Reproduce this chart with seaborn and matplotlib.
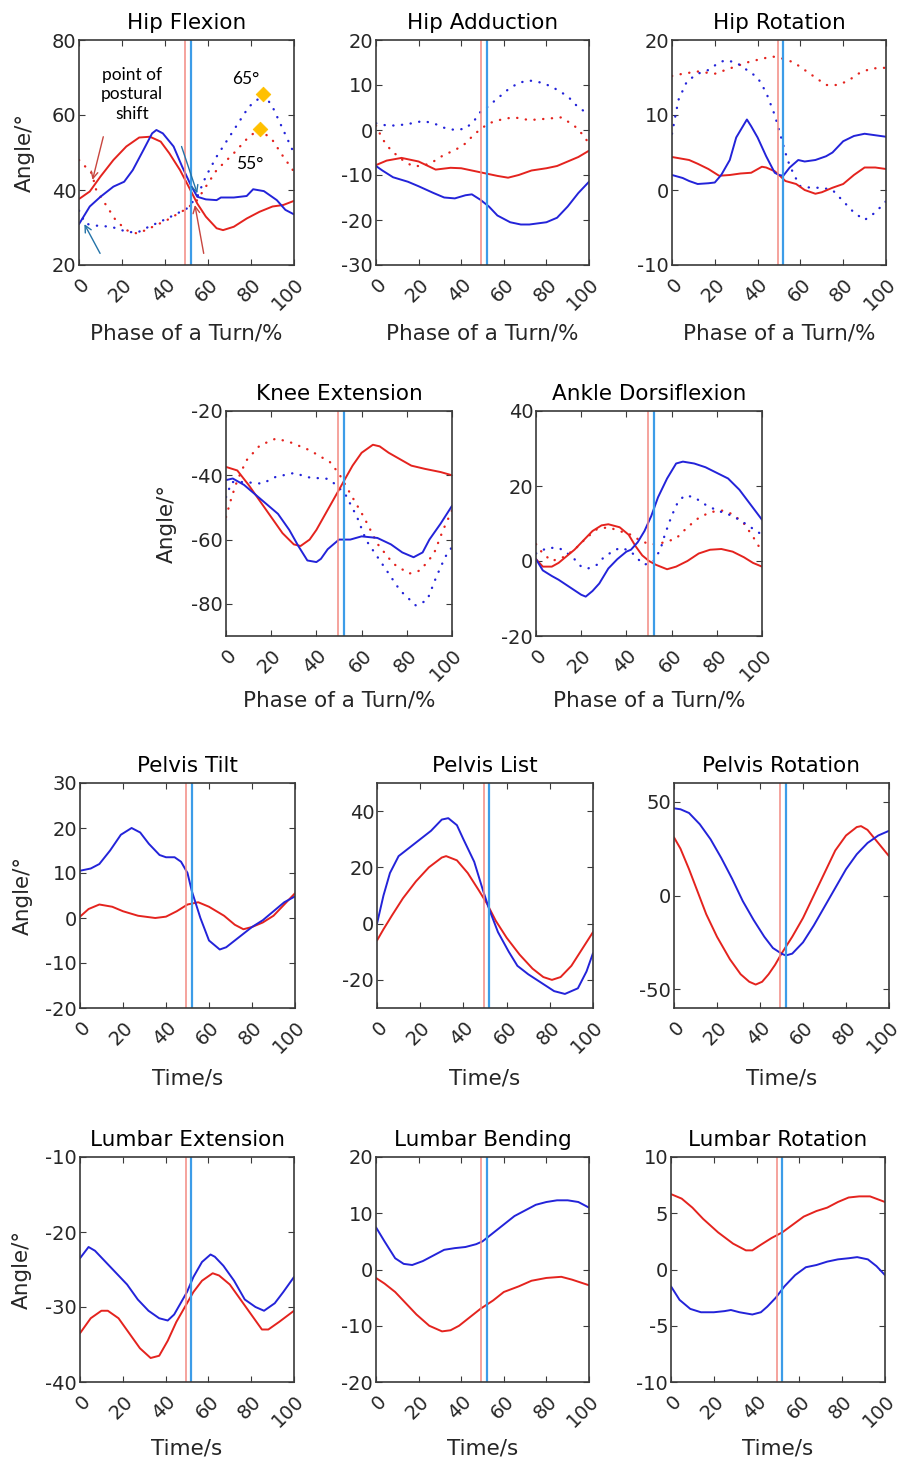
import matplotlib
matplotlib.use('Agg')
import matplotlib.pyplot as plt
import matplotlib.transforms as mtrans
import seaborn as sns

# ---------------- data ----------------
X_TICKS = [0, 20, 40, 60, 80, 100]
SHIFT_RED = 49.5
SHIFT_BLUE = 52.0

# Hip Flexion
HF_RS_X = [0, 5, 10, 16, 22, 28, 33, 38, 42, 47, 51, 55, 59, 64, 67, 72, 78, 84, 90, 95, 100]
HF_RS_Y = [37.6, 39.6, 43.6, 48, 51.6, 54, 54.2, 52.9, 49.8, 45.3, 40.9, 36.4, 32.9, 29.8, 29.3, 30.2, 32.4, 34.2, 35.6, 36, 37.1]
HF_BS_X = [0, 5, 10, 16, 21, 25, 30, 34, 36, 39, 44, 48, 52, 55, 59, 64, 66, 72, 78, 81, 86, 92, 96, 100]
HF_BS_Y = [30.9, 35.6, 38.2, 40.9, 42.2, 45.3, 50.7, 55.1, 56, 55.1, 51.6, 46.2, 41.3, 38.2, 37.5, 37.3, 38, 38, 38.4, 40.2, 39.7, 37.3, 34.7, 33.5]
HF_RD_X = [0, 6, 8, 13, 17, 22, 27, 31, 41, 50, 55, 59, 64, 72, 79, 84, 90, 95, 100]
HF_RD_Y = [48, 44.4, 40, 35.6, 32, 29.3, 28.4, 29.3, 32, 35, 37.3, 40.9, 45.3, 49.8, 54.2, 56.2, 53.3, 48.9, 44.9]
HF_BD_X = [0, 3, 8, 15, 22, 27, 31, 41, 50, 55, 59, 64, 72, 79, 86, 90, 95, 100]
HF_BD_Y = [34.5, 31, 30.5, 30.2, 28.9, 28.6, 29.8, 32.4, 35, 38.2, 43.6, 48.9, 56, 62.2, 65.5, 62.2, 56, 49.8]
PEAK_X = [85.6, 84.2]
PEAK_Y = [65.5, 56.2]
PEAK_LABELS = ['65°', '55°']
PEAK_LABEL_X = [77.5, 79.5]
PEAK_LABEL_Y = [69.5, 47.0]
NOTE_TEXT = 'point of\npostural\nshift'
NOTE_XY = (24.5, 65.5)
ARROW_START = [(11.3, 54.2), (9.8, 23.1), (47.7, 51.6), (58.0, 23.1)]
ARROW_END = [(6.3, 42.7), (2.5, 30.9), (55.0, 39.1), (53.9, 36.0)]
ARROW_KIND = ['red', 'blue', 'blue', 'red']

# Hip Adduction
HA_RS_X = [0, 5, 12, 20, 28, 35, 40, 45, 50, 57, 62, 67, 73, 80, 85, 90, 95, 100]
HA_RS_Y = [-7.8, -6.8, -6.2, -7, -8.8, -8.4, -8.5, -9, -9.5, -10.2, -10.6, -10, -9, -8.5, -8, -7, -6, -4.6]
HA_BS_X = [0, 3, 8, 15, 20, 27, 32, 37, 42, 45, 49, 53, 57, 63, 68, 72, 80, 85, 90, 95, 100]
HA_BS_Y = [-8, -9, -10.5, -11.5, -12.5, -14, -15, -15.2, -14.5, -14.3, -15.5, -17, -19, -20.5, -21, -21, -20.5, -19.5, -17, -14, -11.5]
HA_BD_X = [0, 5, 10, 17, 22, 27, 32, 37, 42, 46, 49, 52, 57, 62, 67, 72, 78, 83, 90, 95, 100]
HA_BD_Y = [1.5, 1, 1, 1.5, 2, 1.5, 0.5, 0, 0.3, 2, 4, 5, 7, 9, 10.5, 11, 10.5, 9.5, 7.5, 5, 3.5]
HA_RD_X = [0, 3, 7, 12, 17, 22, 27, 32, 37, 42, 46, 50, 53, 60, 65, 72, 80, 87, 93, 97, 100]
HA_RD_Y = [1, -2, -4.5, -6.5, -8, -8, -7, -5.5, -4.5, -3, -1, 0.5, 1.5, 2.5, 2.8, 2.2, 2.5, 2.8, 1, -1, -3]

# Hip Rotation
HR_RS_X = [0, 8, 12, 17, 22, 27, 32, 37, 42, 44, 48, 50, 53, 58, 62, 67, 70, 75, 80, 85, 90, 95, 100]
HR_RS_Y = [4.4, 4, 3.5, 2.8, 1.9, 2, 2.2, 2.3, 3.1, 3, 2.5, 2, 1.2, 0.8, 0, -0.5, -0.3, 0.3, 0.8, 2, 3, 3, 2.8]
HR_BS_X = [0, 5, 8, 12, 17, 20, 23, 27, 30, 35, 37, 40, 44, 48, 50, 52, 55, 59, 62, 67, 72, 75, 80, 85, 90, 95, 100]
HR_BS_Y = [2, 1.6, 1.2, 0.8, 0.9, 1, 2, 4, 7, 9.4, 8.5, 7, 4.5, 2.3, 2, 1.9, 3, 4, 3.8, 4, 4.5, 5, 6.5, 7.2, 7.5, 7.3, 7.1]
HR_BD_X = [0, 3, 7, 12, 17, 22, 25, 30, 35, 40, 44, 48, 51, 54, 57, 60, 65, 70, 75, 80, 85, 90, 95, 100]
HR_BD_Y = [7.5, 12, 14.5, 15.5, 16, 17, 17.3, 17, 16, 15, 13, 10, 7, 4, 2, 0.5, 0.3, 0.3, 0, -1.5, -3, -4, -3, -1.5]
HR_RD_X = [0, 5, 12, 20, 25, 30, 35, 42, 47, 52, 57, 62, 67, 72, 77, 82, 87, 93, 100]
HR_RD_Y = [15.2, 15.5, 15.8, 15.5, 16, 16.5, 17, 17.5, 17.8, 17.5, 17, 16, 15, 14, 14, 14.5, 15.5, 16.2, 16.3]

# Knee Extension
KE_RS_X = [0, 5, 10, 15, 20, 25, 30, 33, 37, 40, 44, 48, 52, 56, 60, 65, 68, 72, 77, 82, 88, 95, 100]
KE_RS_Y = [-37.4, -38.5, -43, -48, -53, -58, -61.5, -62, -60, -57, -52, -47, -42, -37, -33, -30.5, -31, -33, -35, -37, -38, -39, -40]
KE_BS_X = [0, 3, 8, 13, 18, 23, 28, 32, 36, 40, 42, 45, 50, 55, 60, 67, 73, 78, 83, 87, 90, 95, 100]
KE_BS_Y = [-41.5, -41, -43, -46, -49, -52, -57, -62, -66.5, -67, -66, -63, -60, -60, -59, -59.5, -61.5, -64, -65.5, -64, -60, -55, -49.5]
KE_BD_X = [0, 2.5, 8, 16, 22, 30, 37, 45, 49, 53, 58, 62, 70, 77, 84, 89, 93, 97, 100]
KE_BD_Y = [-46.8, -42.1, -42.1, -42.6, -40.5, -39.3, -40.7, -41.1, -43.1, -46.2, -53, -60.2, -68.5, -75.8, -80.5, -78.9, -71.7, -65.4, -62.3]
KE_RD_X = [0, 2.5, 5, 9, 15, 22, 28, 37, 46, 50, 55, 61, 67, 74, 81, 86, 92, 96, 100]
KE_RD_Y = [-53, -46.8, -41.6, -35.4, -30.7, -28.6, -29.6, -32.2, -35.9, -39.5, -45.7, -53, -61.3, -67.5, -70.6, -69.6, -64.4, -57.1, -50.9]

# Ankle Dorsiflexion
AD_RS_X = [0, 3, 7, 10, 13, 17, 21, 25, 29, 32, 37, 41, 44, 47, 50, 53, 58, 62, 67, 72, 77, 82, 87, 92, 96, 100]
AD_RS_Y = [0.5, -1.5, -1.5, -0.5, 1, 3, 5.5, 8, 9.5, 9.8, 9, 7, 4, 1.5, 0, -1, -2.2, -1.5, 0, 2, 3, 3.2, 2.5, 1, -0.5, -1.5]
AD_BS_X = [0, 3, 7, 10, 15, 20, 22, 25, 28, 32, 36, 40, 42, 45, 48, 51, 54, 58, 62, 65, 70, 75, 80, 85, 90, 95, 100]
AD_BS_Y = [0.5, -2.5, -4, -5, -7, -9, -9.5, -8, -6, -2, 0.5, 2.5, 3, 5, 8, 12, 17, 22, 26, 26.5, 26, 25, 23.5, 22, 19, 15, 11]
AD_BD_X = [0, 5, 10, 13, 17, 20, 23, 27, 30, 35, 38, 42, 46, 48, 52, 55, 57, 60, 63, 66, 70, 75, 80, 85, 90, 95, 100]
AD_BD_Y = [2, 3.5, 3.5, 2.5, 0.5, -1.5, -2, -1, 1, 3, 3.5, 2.5, 0, -1, 0, 3, 7, 12, 16, 17.5, 17, 15, 13.5, 12.5, 11, 9, 7]
AD_RD_X = [0, 3, 7, 12, 17, 22, 27, 32, 37, 42, 46, 50, 53, 57, 62, 67, 72, 77, 82, 87, 92, 96, 100]
AD_RD_Y = [4.5, 2, 0, 1, 3, 6, 8.5, 9, 8, 7, 5.5, 4.5, 4.5, 5, 6, 9, 11.5, 13, 13.5, 12.5, 10, 6.5, 2.5]

# Pelvis Tilt
PT_B_X = [0, 5, 9, 14, 19, 24, 28, 32, 37, 40, 44, 47, 50, 52, 56, 60, 65, 68, 72, 76, 80, 85, 90, 95, 100]
PT_B_Y = [10.5, 11, 12, 15, 18.5, 20, 19, 16.5, 14, 13.5, 13.5, 12.5, 10, 6, 0, -5, -7, -6.5, -5, -3.5, -2, -0.5, 1.5, 3.5, 4.8]
PT_R_X = [0, 4, 9, 15, 20, 27, 35, 40, 45, 50, 55, 60, 67, 72, 76, 80, 85, 90, 95, 100]
PT_R_Y = [0.3, 2, 3, 2.5, 1.5, 0.5, 0, 0.3, 1.5, 3, 3.5, 2.5, 0.5, -1.5, -2.5, -2, -1, 0.5, 3, 5.5]

# Pelvis List
PL_B_X = [0, 3, 6, 10, 15, 20, 25, 30, 33, 37, 40, 45, 49, 52, 56, 61, 65, 70, 76, 82, 87, 93, 97, 100]
PL_B_Y = [0, 10, 18, 24, 27, 30, 33, 37, 37.5, 35, 30, 22, 12, 5, -3, -10, -15, -18, -21, -24, -25, -23, -17, -10.5]
PL_R_X = [0, 3, 7, 12, 18, 24, 30, 32, 37, 42, 47, 51, 55, 60, 66, 72, 77, 81, 85, 90, 95, 100]
PL_R_Y = [-6, -2, 3, 9, 15, 20, 23.5, 24, 22.5, 18, 12, 7, 1, -5, -11, -16, -19, -20, -19, -15, -9, -3]

# Pelvis Rotation
PR_B_X = [0, 3, 7, 12, 17, 22, 27, 32, 37, 42, 46, 50, 52, 55, 60, 65, 70, 75, 80, 85, 90, 95, 100]
PR_B_Y = [46.5, 46, 44, 38, 30, 20, 9, -3, -13, -22, -28, -31, -32, -31, -25, -16, -6, 4, 14, 22, 28, 32, 34.5]
PR_R_X = [0, 3, 7, 11, 15, 20, 26, 31, 35, 38, 41, 44, 47, 50, 55, 60, 65, 70, 75, 80, 85, 87, 90, 95, 100]
PR_R_Y = [31, 25, 14, 2, -10, -22, -34, -42, -46, -47.5, -46, -42, -37, -31, -22, -12, 0, 12, 24, 32, 36.5, 37, 35, 28, 21]

# Lumbar Extension
LE_B_X = [0, 4, 7, 12, 17, 22, 27, 32, 37, 41, 44, 47, 50, 53, 57, 61, 63, 67, 72, 77, 82, 86, 91, 95, 100]
LE_B_Y = [-23.5, -22, -22.5, -24, -25.5, -27, -29, -30.5, -31.5, -31.8, -31, -29.5, -28, -26, -24, -23, -23.3, -24.5, -26.5, -29, -30, -30.5, -29.5, -28, -26]
LE_R_X = [0, 5, 10, 13, 18, 23, 28, 33, 37, 41, 45, 49, 53, 57, 62, 65, 70, 75, 80, 85, 88, 93, 100]
LE_R_Y = [-33.5, -31.5, -30.5, -30.5, -31.5, -33.5, -35.5, -36.8, -36.5, -34.5, -32, -30, -28, -26.5, -25.5, -25.8, -27, -29, -31, -33, -33, -32, -30.5]

# Lumbar Bending
LB_B_X = [0, 4, 9, 13, 17, 22, 27, 32, 37, 42, 47, 50, 55, 60, 65, 70, 75, 80, 85, 90, 95, 100]
LB_B_Y = [7.5, 5, 2, 1, 0.8, 1.5, 2.5, 3.5, 3.8, 4, 4.5, 5, 6.5, 8, 9.5, 10.5, 11.5, 12, 12.3, 12.3, 12, 11]
LB_R_X = [0, 4, 9, 14, 19, 25, 31, 35, 39, 44, 49, 55, 60, 67, 73, 80, 87, 92, 100]
LB_R_Y = [-1.5, -2.5, -4, -6, -8, -10, -11, -10.8, -10, -8.5, -7, -5.5, -4, -3, -2, -1.5, -1.3, -1.8, -2.8]

# Lumbar Rotation
LR_R_X = [0, 5, 10, 15, 22, 29, 35, 38, 42, 47, 52, 57, 62, 68, 73, 78, 83, 88, 93, 100]
LR_R_Y = [6.7, 6.3, 5.5, 4.5, 3.3, 2.3, 1.7, 1.7, 2.2, 2.8, 3.3, 4, 4.7, 5.2, 5.5, 6, 6.4, 6.5, 6.5, 6]
LR_B_X = [0, 4, 9, 14, 20, 25, 28, 32, 38, 42, 45, 49, 53, 58, 63, 68, 73, 78, 83, 87, 92, 96, 100]
LR_B_Y = [-1.5, -2.7, -3.5, -3.8, -3.8, -3.7, -3.6, -3.8, -4, -3.8, -3.3, -2.5, -1.5, -0.5, 0.2, 0.4, 0.7, 0.9, 1, 1.1, 0.9, 0.3, -0.5]

# ---------------- style ----------------
sns.set_theme(style='white')
plt.rcParams['font.family'] = ['DejaVu Sans']
plt.rcParams['axes.unicode_minus'] = False

RED = '#E4231E'
BLUE = '#2323D9'
RED_V = '#F38A82'
BLUE_V = '#3C9CE8'
ARROW_COL = {'red': '#C8463F', 'blue': '#2473A8'}
DIAMOND = '#FFC000'
TXT = '#262626'
EDGE = '#3A3A3A'

W, H = 905, 1467
fig = plt.figure(figsize=(W / 100, H / 100), dpi=100)

PHASE = 'Phase of a Turn/%'
TIME = 'Time/s'

# title, (left, top, width, height) px, ylim, yticks, solid series, dotted series, xlabel, ylabel?, xlabel y, ylabel x
PANELS = [
    ('Hip Flexion', (79, 40, 215, 225), (20, 80), [20, 40, 60, 80],
     [(HF_RS_X, HF_RS_Y, RED), (HF_BS_X, HF_BS_Y, BLUE)],
     [(HF_RD_X, HF_RD_Y, RED), (HF_BD_X, HF_BD_Y, BLUE)], PHASE, True, -0.262, -0.205),
    ('Hip Adduction', (376, 40, 213, 225), (-30, 20), [-30, -20, -10, 0, 10, 20],
     [(HA_RS_X, HA_RS_Y, RED), (HA_BS_X, HA_BS_Y, BLUE)],
     [(HA_RD_X, HA_RD_Y, RED), (HA_BD_X, HA_BD_Y, BLUE)], PHASE, False, -0.262, 0),
    ('Hip Rotation', (672, 40, 214, 225), (-10, 20), [-10, 0, 10, 20],
     [(HR_RS_X, HR_RS_Y, RED), (HR_BS_X, HR_BS_Y, BLUE)],
     [(HR_RD_X, HR_RD_Y, RED), (HR_BD_X, HR_BD_Y, BLUE)], PHASE, False, -0.262, 0),
    ('Knee Extension', (226, 411, 226, 225), (-90, -20), [-80, -60, -40, -20],
     [(KE_RS_X, KE_RS_Y, RED), (KE_BS_X, KE_BS_Y, BLUE)],
     [(KE_RD_X, KE_RD_Y, RED), (KE_BD_X, KE_BD_Y, BLUE)], PHASE, True, -0.244, -0.217),
    ('Ankle Dorsiflexion', (536, 411, 226, 225), (-20, 40), [-20, 0, 20, 40],
     [(AD_RS_X, AD_RS_Y, RED), (AD_BS_X, AD_BS_Y, BLUE)],
     [(AD_RD_X, AD_RD_Y, RED), (AD_BD_X, AD_BD_Y, BLUE)], PHASE, False, -0.244, 0),
    ('Pelvis Tilt', (80, 783, 215, 225), (-20, 30), [-20, -10, 0, 10, 20, 30],
     [(PT_R_X, PT_R_Y, RED), (PT_B_X, PT_B_Y, BLUE)], [], TIME, True, -0.267, -0.219),
    ('Pelvis List', (377, 783, 216, 225), (-30, 50), [-20, 0, 20, 40],
     [(PL_R_X, PL_R_Y, RED), (PL_B_X, PL_B_Y, BLUE)], [], TIME, False, -0.267, 0),
    ('Pelvis Rotation', (674, 783, 215, 225), (-60, 60), [-50, 0, 50],
     [(PR_R_X, PR_R_Y, RED), (PR_B_X, PR_B_Y, BLUE)], [], TIME, False, -0.267, 0),
    ('Lumbar Extension', (80, 1157, 214, 225), (-40, -10), [-40, -30, -20, -10],
     [(LE_R_X, LE_R_Y, RED), (LE_B_X, LE_B_Y, BLUE)], [], TIME, True, -0.253, -0.224),
    ('Lumbar Bending', (376, 1157, 213, 225), (-20, 20), [-20, -10, 0, 10, 20],
     [(LB_R_X, LB_R_Y, RED), (LB_B_X, LB_B_Y, BLUE)], [], TIME, False, -0.253, 0),
    ('Lumbar Rotation', (671, 1157, 214, 225), (-10, 10), [-10, -5, 0, 5, 10],
     [(LR_R_X, LR_R_Y, RED), (LR_B_X, LR_B_Y, BLUE)], [], TIME, False, -0.253, 0),
]

axes = []
for (title, (l, t, w, h), ylim, yticks, solids, dots, xlab, has_ylab, xl_y, yl_x) in PANELS:
    ax = fig.add_axes([l / W, 1 - (t + h) / H, w / W, h / H])
    axes.append(ax)
    for xs, ys, c in dots:
        sns.lineplot(x=xs, y=ys, ax=ax, color=c, estimator=None, sort=False,
                     linewidth=1.7, linestyle=(0, (0.1, 3.6)), dash_capstyle='round')
    for xs, ys, c in solids:
        sns.lineplot(x=xs, y=ys, ax=ax, color=c, estimator=None, sort=False, linewidth=1.4)
    ax.axvline(SHIFT_RED, color=RED_V, lw=1.1)
    ax.axvline(SHIFT_BLUE, color=BLUE_V, lw=1.6)
    ax.set_xlim(0, 100)
    ax.set_ylim(*ylim)
    ax.set_xticks(X_TICKS)
    ax.set_yticks(yticks)
    ax.set_title(title, fontsize=15.5, color='black', pad=8)
    ax.set_xlabel(xlab, fontsize=15.5, color=TXT)
    ax.xaxis.set_label_coords(0.5, xl_y)
    if has_ylab:
        ax.set_ylabel('Angle/°', fontsize=15.5, color=TXT)
        ax.yaxis.set_label_coords(yl_x, 0.5)
    else:
        ax.set_ylabel('')
    ax.tick_params(axis='both', which='major', direction='in', length=4, width=0.8,
                   color=EDGE, labelcolor=TXT, labelsize=14,
                   bottom=True, top=True, left=True, right=True)
    ax.tick_params(axis='x', pad=7)
    ax.tick_params(axis='y', pad=2)
    for sp in ax.spines.values():
        sp.set_color(EDGE)
        sp.set_linewidth(1.2)
    ax.set_facecolor('white')
    off = mtrans.ScaledTranslation(14 / 100, 0, fig.dpi_scale_trans)
    for lab in ax.get_xticklabels():
        lab.set_rotation(45)
        lab.set_ha('right')
        lab.set_va('top')
        lab.set_transform(lab.get_transform() + off)

# annotations on Hip Flexion
ax0 = axes[0]
sns.scatterplot(x=PEAK_X, y=PEAK_Y, ax=ax0, marker='D', s=55, color=DIAMOND,
                edgecolor=DIAMOND, zorder=5)
for lx, ly, txt in zip(PEAK_LABEL_X, PEAK_LABEL_Y, PEAK_LABELS):
    ax0.text(lx, ly, txt, ha='center', va='center', fontsize=12.5, color='black',
             family=['Lato', 'DejaVu Sans'])
ax0.text(NOTE_XY[0], NOTE_XY[1], NOTE_TEXT, ha='center', va='center', fontsize=12.5,
         linespacing=1.25, color='black', family=['Lato', 'DejaVu Sans'])
for s, e, k in zip(ARROW_START, ARROW_END, ARROW_KIND):
    ax0.annotate('', xy=e, xytext=s,
                 arrowprops=dict(arrowstyle='->', color=ARROW_COL[k], lw=1.0,
                                 shrinkA=0, shrinkB=0, mutation_scale=12))

fig.savefig('out.png', dpi=100, facecolor='white')
